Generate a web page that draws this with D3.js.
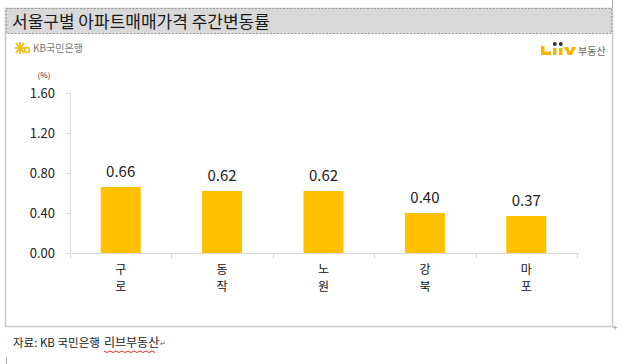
<!DOCTYPE html>
<html><head><meta charset="utf-8">
<script src="https://cdn.jsdelivr.net/npm/d3@7"></script>
<style>
html,body{margin:0;padding:0;background:#fff;}
svg{display:block;}
text{font-family:"Noto Sans CJK KR","Noto Sans",sans-serif;}
</style></head>
<body>
<svg id="c" width="634" height="364"></svg>
<script>
const title = "서울구별 아파트매매가격 주간변동률";
const categories = ["구로", "동작", "노원", "강북", "마포"];
const values = [0.66, 0.62, 0.62, 0.40, 0.37];
const yTicks = [0, 0.4, 0.8, 1.2, 1.6];
const unitLabel = "(%)";
const sourceA = "자료: KB 국민은행";
const sourceB = "리브부동산";

const svg = d3.select("#c");

// outer frame
svg.append("rect").attr("x",5.5).attr("y",8.5).attr("width",607).attr("height",318)
  .attr("fill","#fff").attr("stroke","#c8c8c8").attr("stroke-width",1.5);
// title bar
svg.append("rect").attr("x",6.5).attr("y",8.5).attr("width",605).attr("height",25)
  .attr("fill","#d9d9d9").attr("stroke","#9a9a9a").attr("stroke-dasharray","2,1.5");
svg.append("line").attr("x1",612.5).attr("x2",612.5).attr("y1",0).attr("y2",8).attr("stroke","#aaa");
svg.append("text").attr("x",12).attr("y",28).attr("font-size",17).attr("fill","#1a1a1a").text(title);

// KB logo
const kb = svg.append("g").attr("transform","translate(16,48)");
kb.append("path").attr("d","M0,-5 L8,5 M8,-5 L0,5 M4,-6 L4,6 M-1,0 L9,0").attr("stroke","#f5b800").attr("stroke-width",1.6);
kb.append("circle").attr("cx",11).attr("cy",2).attr("r",2.5).attr("fill","none").attr("stroke","#f5b800").attr("stroke-width",1.4);
kb.append("text").attr("x",17).attr("y",4).attr("font-size",10).attr("fill","#777").text("KB국민은행");

// Liiv logo (drawn shapes)
const lv = svg.append("g");
const gold = "#f7b500";
lv.append("rect").attr("x",541).attr("y",46).attr("width",3.5).attr("height",9).attr("fill",gold);
lv.append("rect").attr("x",541).attr("y",51.5).attr("width",10).attr("height",3.5).attr("fill",gold);
lv.append("rect").attr("x",553).attr("y",48).attr("width",3.5).attr("height",7).attr("fill",gold);
lv.append("rect").attr("x",559).attr("y",48).attr("width",3.5).attr("height",7).attr("fill",gold);
lv.append("circle").attr("cx",554.8).attr("cy",44).attr("r",2).attr("fill","#333");
lv.append("circle").attr("cx",560.8).attr("cy",44).attr("r",2).attr("fill","#333");
lv.append("path").attr("d","M564,47 L568,47 L570,51.5 L572,47 L576,47 L572,55 L568,55 Z").attr("fill",gold);
lv.append("text").attr("x",578).attr("y",55).attr("font-size",10).attr("fill","#666").text("부동산");

// chart
const x0 = 70, x1 = 577, yTop = 93, yBot = 253;
const x = d3.scaleBand().domain(categories).range([x0,x1]).paddingInner(0).paddingOuter(0);
const y = d3.scaleLinear().domain([0,1.6]).range([yBot,yTop]);

// y axis
svg.append("line").attr("x1",x0+0.5).attr("x2",x0+0.5).attr("y1",yTop).attr("y2",yBot).attr("stroke","#d9d9d9");
yTicks.forEach(t=>{
  svg.append("line").attr("x1",x0-4).attr("x2",x0).attr("y1",Math.round(y(t))+0.5).attr("y2",Math.round(y(t))+0.5).attr("stroke","#d9d9d9");
});
svg.selectAll(".yl").data(yTicks).join("text")
  .attr("x",55).attr("y",d=>y(d)+5).attr("text-anchor","end").attr("font-size",13).attr("fill","#222")
  .text(d=>d.toFixed(2));
svg.append("text").attr("x",44).attr("y",78).attr("text-anchor","middle").attr("font-size",8).attr("fill","#333").text(unitLabel);

// bars
const bw = 40;
svg.selectAll(".bar").data(values).join("rect")
  .attr("x",(d,i)=>x(categories[i])+x.bandwidth()/2-bw/2)
  .attr("y",d=>y(d)).attr("width",bw).attr("height",d=>yBot-y(d)).attr("fill","#ffc000");
svg.selectAll(".vl").data(values).join("text")
  .attr("x",(d,i)=>x(categories[i])+x.bandwidth()/2)
  .attr("y",d=>y(d)-10).attr("text-anchor","middle").attr("font-size",15).attr("fill","#222")
  .text(d=>d.toFixed(2));

// x axis
svg.append("line").attr("x1",x0).attr("x2",x1).attr("y1",yBot+0.5).attr("y2",yBot+0.5).attr("stroke","#d9d9d9");
const edges = categories.map(c=>x(c)).concat([x1]);
edges.forEach(e=>{
  svg.append("line").attr("x1",Math.round(e)+0.5).attr("x2",Math.round(e)+0.5).attr("y1",yBot).attr("y2",yBot+5).attr("stroke","#d9d9d9");
});
categories.forEach(c=>{
  const cx = x(c)+x.bandwidth()/2;
  [...c].forEach((ch,j)=>{
    svg.append("text").attr("x",cx).attr("y",273.5+j*17.5).attr("text-anchor","middle")
      .attr("font-size",12).attr("fill","#111").text(ch);
  });
});

// plus marker
svg.append("text").attr("x",615).attr("y",331).attr("text-anchor","middle").attr("font-size",9).attr("fill","#888").text("+");

// source
svg.append("text").attr("x",13).attr("y",347).attr("font-size",11.5).attr("fill","#222").text(sourceA);
svg.append("text").attr("x",104).attr("y",347).attr("font-size",12).attr("fill","#222").text(sourceB);
svg.append("text").attr("x",160).attr("y",346).attr("font-size",7).attr("fill","#555").text("↵");
svg.append("path").attr("d", d3.range(104,157,3).map((v,i)=>(i?"L":"M")+v+","+(351+(i%2?1.5:0))).join(""))
  .attr("fill","none").attr("stroke","#c00").attr("stroke-width",0.8);
svg.append("line").attr("x1",6.5).attr("x2",6.5).attr("y1",357).attr("y2",364).attr("stroke","#aaa");
</script>
</body></html>
